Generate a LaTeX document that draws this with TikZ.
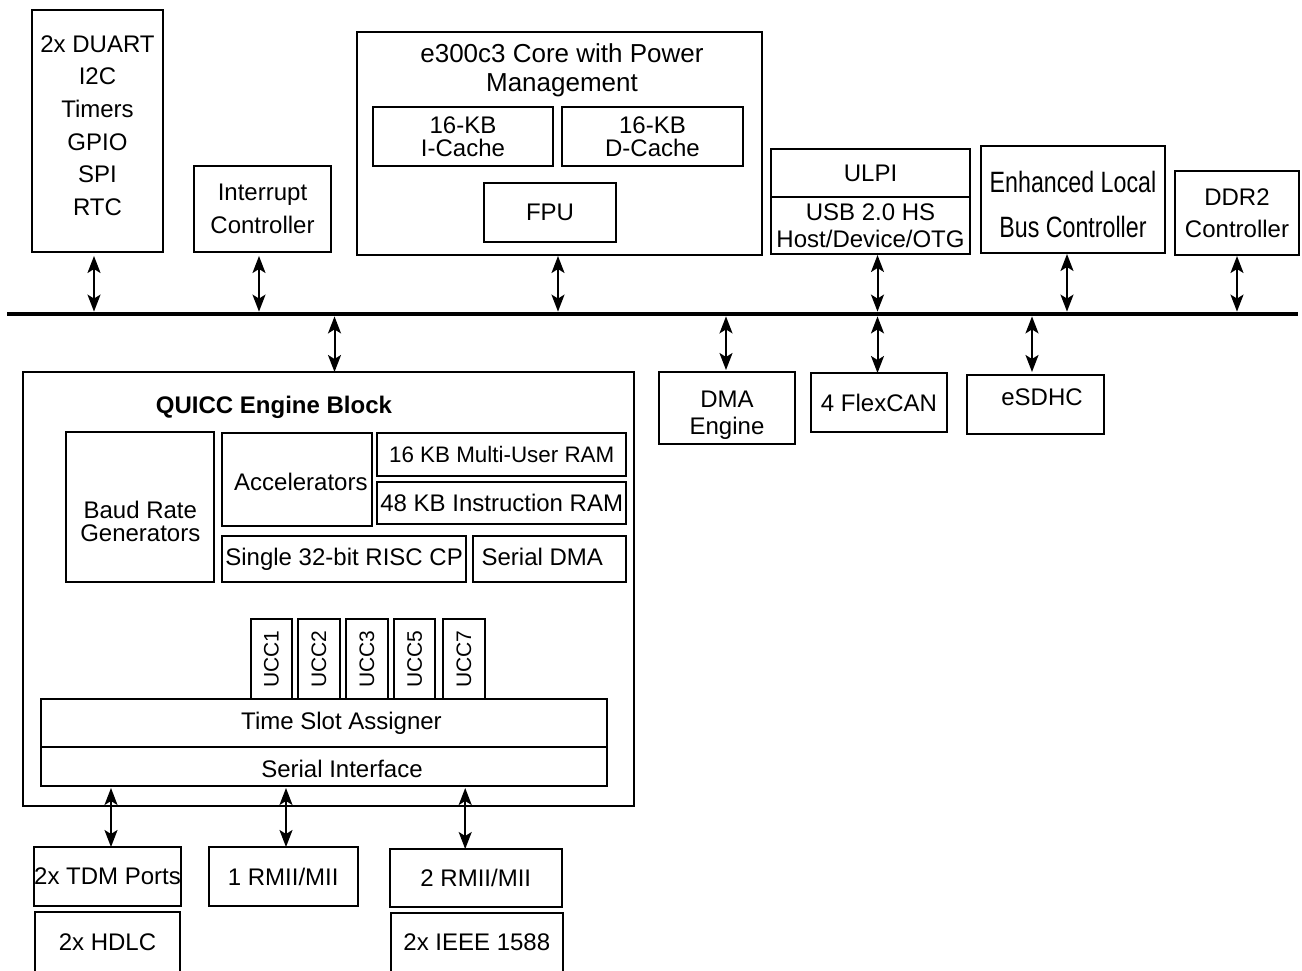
\documentclass[tikz,border=0pt]{standalone}
\usepackage{fontspec}
\setmainfont{Liberation Sans}
\newfontfamily\narrowfont[FakeStretch=0.79]{Liberation Sans}
\usetikzlibrary{arrows.meta,positioning,calc}

\begin{document}
\begin{tikzpicture}[x=0.5pt, y=-0.5pt,
   >={Stealth[length=8.5pt,width=6.5pt,inset=2pt]},
   blk/.style={draw, line width=1pt, inner sep=0pt, outer sep=0pt, align=center,
     font=\fontsize{12}{16}\selectfont},
   txt/.style={font=\fontsize{12}{14}\selectfont, align=center},
   bi/.style={<->, line width=1pt}]
  \useasboundingbox (0,0) rectangle (1302,970);
  \clip (0,0) rectangle (1302,970);
  % top row
  \node[blk, minimum width=65.5pt, minimum height=121pt,
    label={[txt, font=\fontsize{12}{16.35}\selectfont, yshift=2.75pt]center:2x DUART\\I2C\\Timers\\GPIO\\SPI\\RTC}] (duart) at (97.5,131) {};
  \node[blk, minimum width=68.5pt, minimum height=43pt, font=\fontsize{12}{16.5}\selectfont] (intc) at (262.5,209) {Interrupt\\Controller};
  \node[blk, minimum width=202.5pt, minimum height=111.5pt] (core) at (559.5,143.5) {};
  \node[font=\fontsize{13}{14.5}\selectfont, align=center] (coretitle) at (562,70.5) {e300c3 Core with Power\\Management};
  \node[blk, minimum width=90pt, minimum height=29.5pt, font=\fontsize{12}{11.5}\selectfont] (icache) at (463,136.5) {16-KB\\I-Cache};
  \node[blk, minimum width=90.5pt, minimum height=29.5pt, font=\fontsize{12}{11.5}\selectfont] (dcache) at (652.5,136.5) {16-KB\\D-Cache};
  \node[blk, minimum width=66pt, minimum height=29.5pt] (fpu) at (550,212.5) {FPU};
  \node[blk, minimum width=99.5pt, minimum height=24pt] (ulpi) at (870.5,173) {ULPI};
  \node[blk, minimum width=99.5pt, minimum height=28.5pt, font=\fontsize{12}{13.5}\selectfont] (usb) at (870.5,225.5) {USB 2.0 HS\\Host/Device/OTG};
  \node[blk, minimum width=92pt, minimum height=53.5pt,
    label={[txt, font=\narrowfont\fontsize{14.7}{22.5}\selectfont, yshift=-2.5pt]center:Enhanced Local\\Bus Controller}] (elbc) at (1073,199.5) {};
  \node[blk, minimum width=62pt, minimum height=42pt] (ddr) at (1237,213) {DDR2\\Controller};
  % bus
  \node[fill, inner sep=0pt, minimum width=645.5pt, minimum height=2pt] (bus) at (652.5,314) {};
  % right of QUICC
  \node[blk, minimum width=68pt, minimum height=36pt,
    label={[txt, font=\fontsize{12}{13.5}\selectfont, yshift=-3.5pt]center:DMA\\Engine}] (dma) at (727,408) {};
  \node[blk, minimum width=68pt, minimum height=29.5pt] (flexcan) at (879,402.5) {4 FlexCAN};
  \node[blk, minimum width=68.5pt, minimum height=29.5pt,
    label={[txt, xshift=3.25pt, yshift=3.75pt]center:eSDHC}] (esdhc) at (1035.5,404.5) {};
  % QUICC engine
  \node[blk, minimum width=305.5pt, minimum height=217pt] (qe) at (328,589) {};
  \node[font=\bfseries\fontsize{12}{14}\selectfont] (qetitle) at (274,407) {QUICC Engine Block};
  \node[blk, minimum width=74pt, minimum height=75pt,
    label={[txt, font=\fontsize{12}{11.5}\selectfont, yshift=-7.25pt]center:Baud Rate\\Generators}] (brg) at (140.3,507) {};
  \node[blk, minimum width=75pt, minimum height=46.5pt,
    label={[txt, xshift=2pt, yshift=-1.25pt]center:Accelerators}] (accel) at (296.9,479.5) {};
  \node[blk, minimum width=124.3pt, minimum height=21.5pt, font=\fontsize{11.2}{13}\selectfont] (mur) at (501.7,454.5) {16 KB Multi-User RAM};
  \node[blk, minimum width=124.3pt, minimum height=21pt] (iram) at (501.7,503) {48 KB Instruction RAM};
  \node[blk, minimum width=122.3pt, minimum height=23pt] (risc) at (344.1,559) {Single 32-bit RISC CP};
  \node[blk, minimum width=76.7pt, minimum height=23pt,
    label={[txt, xshift=-3.5pt, yshift=1pt]center:Serial DMA}] (sdma) at (549.3,559) {};
  \node[blk, minimum width=20.75pt, minimum height=40pt, font=\fontsize{10.5}{12}\selectfont] (ucca) at (271.5,659) {\rotatebox{90}{UCC1}};
  \node[blk, minimum width=20.75pt, minimum height=40pt, font=\fontsize{10.5}{12}\selectfont] (uccb) at (318.9,659) {\rotatebox{90}{UCC2}};
  \node[blk, minimum width=20.75pt, minimum height=40pt, font=\fontsize{10.5}{12}\selectfont] (uccc) at (366.9,659) {\rotatebox{90}{UCC3}};
  \node[blk, minimum width=20.75pt, minimum height=40pt, font=\fontsize{10.5}{12}\selectfont] (uccd) at (414.6,659) {\rotatebox{90}{UCC5}};
  \node[blk, minimum width=20.75pt, minimum height=40pt, font=\fontsize{10.5}{12}\selectfont] (ucce) at (464,659) {\rotatebox{90}{UCC7}};
  \node[blk, minimum width=283.4pt, minimum height=24pt,
    label={[txt, xshift=8.75pt]center:Time Slot Assigner}] (tsa) at (324,723) {};
  \node[blk, minimum width=283.4pt, minimum height=19.5pt,
    label={[txt, xshift=9pt, yshift=-1pt]center:Serial Interface}] (si) at (324,766.5) {};
  % ports below
  \node[blk, minimum width=72.75pt, minimum height=29.5pt] (tdm) at (107.5,876.5) {2x TDM Ports};
  \node[blk, minimum width=72.75pt, minimum height=30pt] (hdlc) at (107.5,942) {2x HDLC};
  \node[blk, minimum width=74.65pt, minimum height=29.5pt] (rmiia) at (283.2,876.5) {1 RMII/MII};
  \node[blk, minimum width=86pt, minimum height=29pt] (rmiib) at (475.8,878) {2 RMII/MII};
  \node[blk, minimum width=85.8pt, minimum height=29.5pt] (ieee) at (476.8,942.5) {2x IEEE 1588};
  % connections to the bus
  \draw[bi, shorten <=2pt] ([xshift=-1.75pt]duart.south) -- ([xshift=-1.75pt]duart.south |- bus.north);
  \draw[bi, shorten <=2pt] ([xshift=-1.75pt]intc.south) -- ([xshift=-1.75pt]intc.south |- bus.north);
  \draw[bi, shorten <=0.5pt] ([xshift=-0.75pt]core.south) -- ([xshift=-0.75pt]core.south |- bus.north);
  \draw[bi, shorten <=0.5pt] ([xshift=3.5pt]usb.south) -- ([xshift=3.5pt]usb.south |- bus.north);
  \draw[bi, shorten <=0.5pt] ([xshift=-3pt]elbc.south) -- ([xshift=-3pt]elbc.south |- bus.north);
  \draw[bi, shorten <=0.5pt] (ddr.south) -- (ddr.south |- bus.north);
  \draw[bi] ([xshift=3.25pt]qe.north |- bus.south) -- ([xshift=3.25pt]qe.north);
  \draw[bi, shorten >=1pt] ([xshift=-0.5pt]dma.north |- bus.south) -- ([xshift=-0.5pt]dma.north);
  \draw[bi] ([xshift=-0.75pt]flexcan.north |- bus.south) -- ([xshift=-0.75pt]flexcan.north);
  \draw[bi, shorten >=1.5pt] ([xshift=-1.75pt]esdhc.north |- bus.south) -- ([xshift=-1.75pt]esdhc.north);
  % serial ports
  \draw[bi, shorten >=1pt] ([xshift=1.75pt]tdm.north) -- ([xshift=1.75pt]tdm.north |- si.south);
  \draw[bi, shorten >=1pt] ([xshift=1.4pt]rmiia.north) -- ([xshift=1.4pt]rmiia.north |- si.south);
  \draw[bi, shorten >=1pt] ([xshift=-5.3pt]rmiib.north) -- ([xshift=-5.3pt]rmiib.north |- si.south);
\end{tikzpicture}
\end{document}
